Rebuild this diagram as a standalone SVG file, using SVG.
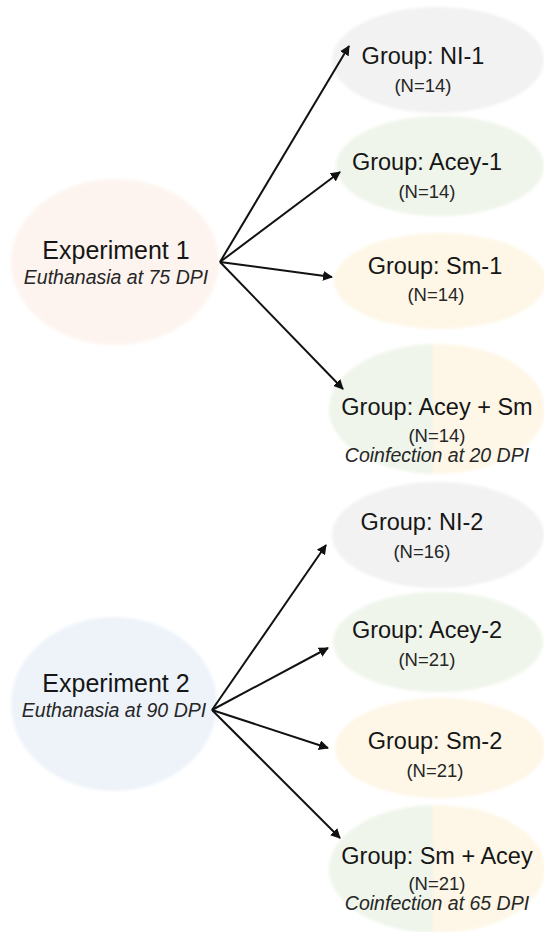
<svg xmlns="http://www.w3.org/2000/svg" width="544" height="932" viewBox="0 0 544 932">
<defs>
<style>
text{font-family:"Liberation Sans",Arial,sans-serif;fill:#161616;text-anchor:middle}
.t{font-size:25px}
.g{font-size:23.5px}
.n{font-size:18.5px;fill:#262626}
.i{font-size:19.5px;font-style:italic;fill:#262626}
.grey{fill:#f2f2f2}
.green{fill:#eff5ea}
.yellow{fill:#fef7e7}
.conn line{stroke:#111;stroke-width:2;marker-end:url(#ah)}
</style>
<filter id="soft" x="-10%" y="-10%" width="120%" height="120%"><feGaussianBlur stdDeviation="1.5"/></filter>
<linearGradient id="split" x1="0" y1="0" x2="1" y2="0">
<stop offset="0.48" stop-color="#eff5ea"/>
<stop offset="0.48" stop-color="#fef7e7"/>
</linearGradient>
<marker id="ah" viewBox="0 0 10 10" refX="9" refY="5" markerWidth="5" markerHeight="5" orient="auto" markerUnits="strokeWidth">
<path d="M0,0 L10,5 L0,10 z" fill="#111"/>
</marker>
</defs>
<rect width="544" height="932" fill="#ffffff"/>

<g id="exp1">
<ellipse cx="115" cy="262" rx="104" ry="83" fill="#fdf4ef" filter="url(#soft)"/>
<text class="t" x="116" y="259">Experiment 1</text>
<text class="i" x="116" y="284">Euthanasia at 75 DPI</text>
</g>
<g id="ni1">
<ellipse class="grey" cx="438" cy="60" rx="106" ry="53" filter="url(#soft)"/>
<text class="g" x="423" y="64">Group: NI-1</text>
<text class="n" x="423" y="92">(N=14)</text>
</g>
<g id="acey1">
<ellipse class="green" cx="440" cy="166" rx="104" ry="50" filter="url(#soft)"/>
<text class="g" x="427" y="170">Group: Acey-1</text>
<text class="n" x="427" y="198">(N=14)</text>
</g>
<g id="sm1">
<ellipse class="yellow" cx="440" cy="281" rx="106" ry="48" filter="url(#soft)"/>
<text class="g" x="435" y="274">Group: Sm-1</text>
<text class="n" x="436" y="301">(N=14)</text>
</g>
<g id="aceysm">
<ellipse cx="437" cy="409" rx="108" ry="65" fill="url(#split)" filter="url(#soft)"/>
<text class="g" x="437" y="415">Group: Acey + Sm</text>
<text class="n" x="437" y="442">(N=14)</text>
<text class="i" x="437" y="462">Coinfection at 20 DPI</text>
</g>

<g id="exp2">
<ellipse cx="114" cy="704" rx="103" ry="87" fill="#eef3fa" filter="url(#soft)"/>
<text class="t" x="116" y="692">Experiment 2</text>
<text class="i" x="114" y="717">Euthanasia at 90 DPI</text>
</g>
<g id="ni2">
<ellipse class="grey" cx="438" cy="535" rx="106" ry="53" filter="url(#soft)"/>
<text class="g" x="422" y="530">Group: NI-2</text>
<text class="n" x="422" y="558">(N=16)</text>
</g>
<g id="acey2">
<ellipse class="green" cx="438" cy="642" rx="105" ry="50" filter="url(#soft)"/>
<text class="g" x="427" y="638">Group: Acey-2</text>
<text class="n" x="427" y="666">(N=21)</text>
</g>
<g id="sm2">
<ellipse class="yellow" cx="440" cy="748" rx="105" ry="50" filter="url(#soft)"/>
<text class="g" x="435" y="749">Group: Sm-2</text>
<text class="n" x="435" y="777">(N=21)</text>
</g>
<g id="smacey">
<ellipse cx="437" cy="869" rx="108" ry="64" fill="url(#split)" filter="url(#soft)"/>
<text class="g" x="437" y="864">Group: Sm + Acey</text>
<text class="n" x="437" y="890">(N=21)</text>
<text class="i" x="437" y="910">Coinfection at 65 DPI</text>
</g>

<g id="connectors" class="conn">
<line x1="220" y1="262" x2="349" y2="46"/>
<line x1="220" y1="262" x2="340" y2="172"/>
<line x1="220" y1="262" x2="332" y2="277"/>
<line x1="220" y1="262" x2="343" y2="389"/>
<line x1="212" y1="710" x2="326" y2="545"/>
<line x1="212" y1="710" x2="328" y2="648"/>
<line x1="212" y1="710" x2="328" y2="748"/>
<line x1="212" y1="710" x2="340" y2="838"/>
</g>
</svg>
